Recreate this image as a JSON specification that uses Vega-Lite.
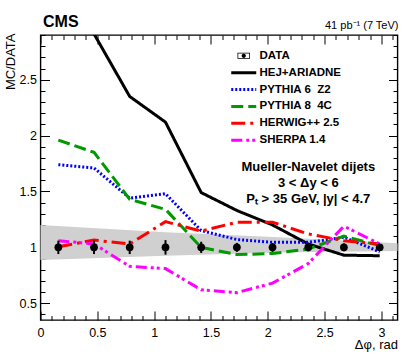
{
  "$schema": "https://vega.github.io/schema/vega-lite/v6.json",
  "width": 357,
  "height": 285,
  "autosize": {"type": "none"},
  "padding": {"left": 40.5, "top": 35, "right": 9.5, "bottom": 36},
  "background": "white",
  "config": {
    "view": {"stroke": "black", "strokeWidth": 1.4},
    "font": "Liberation Sans",
    "legend": {"rowPadding": 3.9},
    "axis": {"domain": false, "grid": false, "tickColor": "black", "tickWidth": 1, "labelFont": "Liberation Sans", "labelFontSize": 12.5, "labelColor": "black", "titleFont": "Liberation Sans", "titleFontSize": 13, "titleFontWeight": "normal", "titleColor": "black"}
  },
  "datasets": {
    "band": [
      {"dphi": 0, "lo": 0.886, "hi": 1.2},
      {"dphi": 1.1, "lo": 0.925, "hi": 1.135},
      {"dphi": 2.1, "lo": 0.955, "hi": 1.09},
      {"dphi": 3.14159, "lo": 0.967, "hi": 1.037}
    ],
    "points": [
      {"dphi": 0.157, "ratio": 1, "err": 0.06},
      {"dphi": 0.471, "ratio": 1, "err": 0.06},
      {"dphi": 0.785, "ratio": 1, "err": 0.06},
      {"dphi": 1.1, "ratio": 1, "err": 0.065},
      {"dphi": 1.414, "ratio": 1, "err": 0.05},
      {"dphi": 1.728, "ratio": 1, "err": 0.04},
      {"dphi": 2.042, "ratio": 1, "err": 0.04},
      {"dphi": 2.356, "ratio": 1, "err": 0.035},
      {"dphi": 2.67, "ratio": 1, "err": 0.035},
      {"dphi": 2.985, "ratio": 1, "err": 0.03}
    ],
    "models": [
      {"model": "HEJ+ARIADNE", "dphi": 0.157, "ratio": 3.7},
      {"model": "HEJ+ARIADNE", "dphi": 0.471, "ratio": 2.91},
      {"model": "HEJ+ARIADNE", "dphi": 0.785, "ratio": 2.35},
      {"model": "HEJ+ARIADNE", "dphi": 1.1, "ratio": 2.12},
      {"model": "HEJ+ARIADNE", "dphi": 1.414, "ratio": 1.49},
      {"model": "HEJ+ARIADNE", "dphi": 1.728, "ratio": 1.33},
      {"model": "HEJ+ARIADNE", "dphi": 2.042, "ratio": 1.2},
      {"model": "HEJ+ARIADNE", "dphi": 2.356, "ratio": 1.03},
      {"model": "HEJ+ARIADNE", "dphi": 2.67, "ratio": 0.93},
      {"model": "HEJ+ARIADNE", "dphi": 2.985, "ratio": 0.925},
      {"model": "PYTHIA 6 \u00a0Z2", "dphi": 0.157, "ratio": 1.74},
      {"model": "PYTHIA 6 \u00a0Z2", "dphi": 0.471, "ratio": 1.71},
      {"model": "PYTHIA 6 \u00a0Z2", "dphi": 0.785, "ratio": 1.44},
      {"model": "PYTHIA 6 \u00a0Z2", "dphi": 1.1, "ratio": 1.48},
      {"model": "PYTHIA 6 \u00a0Z2", "dphi": 1.414, "ratio": 1.15},
      {"model": "PYTHIA 6 \u00a0Z2", "dphi": 1.728, "ratio": 1.07},
      {"model": "PYTHIA 6 \u00a0Z2", "dphi": 2.042, "ratio": 1.045},
      {"model": "PYTHIA 6 \u00a0Z2", "dphi": 2.356, "ratio": 1.045},
      {"model": "PYTHIA 6 \u00a0Z2", "dphi": 2.67, "ratio": 1.09},
      {"model": "PYTHIA 6 \u00a0Z2", "dphi": 2.985, "ratio": 0.96},
      {"model": "PYTHIA 8 \u00a04C", "dphi": 0.157, "ratio": 1.96},
      {"model": "PYTHIA 8 \u00a04C", "dphi": 0.471, "ratio": 1.85},
      {"model": "PYTHIA 8 \u00a04C", "dphi": 0.785, "ratio": 1.43},
      {"model": "PYTHIA 8 \u00a04C", "dphi": 1.1, "ratio": 1.34},
      {"model": "PYTHIA 8 \u00a04C", "dphi": 1.414, "ratio": 1.0},
      {"model": "PYTHIA 8 \u00a04C", "dphi": 1.728, "ratio": 0.935},
      {"model": "PYTHIA 8 \u00a04C", "dphi": 2.042, "ratio": 0.945},
      {"model": "PYTHIA 8 \u00a04C", "dphi": 2.356, "ratio": 0.985},
      {"model": "PYTHIA 8 \u00a04C", "dphi": 2.67, "ratio": 1.1},
      {"model": "PYTHIA 8 \u00a04C", "dphi": 2.985, "ratio": 1.015},
      {"model": "HERWIG++ 2.5", "dphi": 0.157, "ratio": 1.005},
      {"model": "HERWIG++ 2.5", "dphi": 0.471, "ratio": 1.065},
      {"model": "HERWIG++ 2.5", "dphi": 0.785, "ratio": 1.03},
      {"model": "HERWIG++ 2.5", "dphi": 1.1, "ratio": 1.23},
      {"model": "HERWIG++ 2.5", "dphi": 1.414, "ratio": 1.145},
      {"model": "HERWIG++ 2.5", "dphi": 1.728, "ratio": 1.225},
      {"model": "HERWIG++ 2.5", "dphi": 2.042, "ratio": 1.225},
      {"model": "HERWIG++ 2.5", "dphi": 2.356, "ratio": 1.12},
      {"model": "HERWIG++ 2.5", "dphi": 2.67, "ratio": 1.06},
      {"model": "HERWIG++ 2.5", "dphi": 2.985, "ratio": 1.03},
      {"model": "SHERPA 1.4", "dphi": 0.157, "ratio": 1.06},
      {"model": "SHERPA 1.4", "dphi": 0.471, "ratio": 1.03},
      {"model": "SHERPA 1.4", "dphi": 0.785, "ratio": 0.83},
      {"model": "SHERPA 1.4", "dphi": 1.1, "ratio": 0.81},
      {"model": "SHERPA 1.4", "dphi": 1.414, "ratio": 0.62},
      {"model": "SHERPA 1.4", "dphi": 1.728, "ratio": 0.595},
      {"model": "SHERPA 1.4", "dphi": 2.042, "ratio": 0.68},
      {"model": "SHERPA 1.4", "dphi": 2.356, "ratio": 0.855},
      {"model": "SHERPA 1.4", "dphi": 2.67, "ratio": 1.19},
      {"model": "SHERPA 1.4", "dphi": 2.985, "ratio": 1.03}
    ]
  },
  "layer": [
    {
      "data": {"name": "band"},
      "mark": {"type": "area", "color": "#d0d0d0", "opacity": 1},
      "encoding": {
        "x": {"field": "dphi", "type": "quantitative", "scale": {"domain": [0, 3.14159], "nice": false, "zero": false},
          "axis": {"orient": "bottom", "values": [0,0.1,0.2,0.3,0.4,0.5,0.6,0.7,0.8,0.9,1,1.1,1.2,1.3,1.4,1.5,1.6,1.7,1.8,1.9,2,2.1,2.2,2.3,2.4,2.5,2.6,2.7,2.8,2.9,3,3.1],
            "tickSize": {"condition": {"test": "abs(datum.value*2-round(datum.value*2))<0.001", "value": -9}, "value": -4.5},
            "format": "~g", "labelExpr": "abs(datum.value*2-round(datum.value*2))<0.001 ? datum.label : ''",
            "labelPadding": 15, "labelOverlap": false, "labelFlush": false,
            "title": "Δφ, rad", "titleAnchor": "end", "titleAlign": "right", "titleX": 357, "titleY": 28.5, "titleBaseline": "alphabetic"}},
        "y": {"field": "hi", "type": "quantitative", "scale": {"domain": [0.35, 2.9], "nice": false, "zero": false},
          "axis": {"orient": "left", "values": [0.4,0.5,0.6,0.7,0.8,0.9,1,1.1,1.2,1.3,1.4,1.5,1.6,1.7,1.8,1.9,2,2.1,2.2,2.3,2.4,2.5,2.6,2.7,2.8,2.9],
            "tickSize": {"condition": {"test": "abs(datum.value*2-round(datum.value*2))<0.001", "value": -9}, "value": -4.5},
            "format": "~g", "labelExpr": "abs(datum.value*2-round(datum.value*2))<0.001 ? datum.label : ''",
            "labelPadding": 13, "labelOverlap": false, "labelFlush": false,
            "title": "MC/DATA", "titleAnchor": "end", "titleAlign": "right", "titleAngle": 270, "titleBaseline": "bottom", "titleX": -23.5, "titleY": -2}},
        "y2": {"field": "lo"}
      }
    },
    {
      "data": {"name": "models"},
      "mark": {"type": "line", "strokeWidth": 3, "clip": true},
      "encoding": {
        "x": {"field": "dphi", "type": "quantitative",
          "axis": {"orient": "top", "values": [0,0.1,0.2,0.3,0.4,0.5,0.6,0.7,0.8,0.9,1,1.1,1.2,1.3,1.4,1.5,1.6,1.7,1.8,1.9,2,2.1,2.2,2.3,2.4,2.5,2.6,2.7,2.8,2.9,3,3.1],
            "tickSize": {"condition": {"test": "abs(datum.value*2-round(datum.value*2))<0.001", "value": -9}, "value": -4.5},
            "labels": false, "title": "41 pb⁻¹ (7 TeV)", "titleFontSize": 11, "titleAnchor": "end", "titleAlign": "right", "titleX": 357.5, "titleY": -7, "titleBaseline": "alphabetic"}},
        "y": {"field": "ratio", "type": "quantitative",
          "axis": {"orient": "right", "values": [0.4,0.5,0.6,0.7,0.8,0.9,1,1.1,1.2,1.3,1.4,1.5,1.6,1.7,1.8,1.9,2,2.1,2.2,2.3,2.4,2.5,2.6,2.7,2.8,2.9],
            "tickSize": {"condition": {"test": "abs(datum.value*2-round(datum.value*2))<0.001", "value": -9}, "value": -4.5},
            "labels": false, "title": null}},
        "color": {"field": "model", "type": "nominal",
          "scale": {"domain": ["DATA", "HEJ+ARIADNE", "PYTHIA 6 \u00a0Z2", "PYTHIA 8 \u00a04C", "HERWIG++ 2.5", "SHERPA 1.4"], "range": ["black", "black", "#0000ff", "#009900", "#ff0000", "#ff00ff"]},
          "legend": {"title": null, "orient": "none", "legendX": 197.5, "legendY": 15, "padding": 0, "symbolType": "stroke", "symbolSize": 625, "symbolStrokeWidth": 3, "labelOffset": 10, "rowPadding": 3.9, "labelFont": "Liberation Sans", "labelFontSize": 11.5, "labelFontWeight": "bold", "labelColor": "black",
            "encode": {"symbols": {"update": {
              "shape": {"signal": "datum.value === 'DATA' ? 'M-0.5,-0.24H0.5V0.24H-0.5Z M-0.44,-0.18V0.18H0.44V-0.18Z M-0.17,0A0.17,0.17 0 1,0 0.17,0A0.17,0.17 0 1,0 -0.17,0Z' : 'stroke'"},
              "fill": {"signal": "datum.value === 'DATA' ? 'black' : 'transparent'"},
              "strokeWidth": {"signal": "datum.value === 'DATA' ? 0 : 3"}}}}}},
        "strokeDash": {"field": "model", "type": "nominal",
          "scale": {"domain": ["DATA", "HEJ+ARIADNE", "PYTHIA 6 \u00a0Z2", "PYTHIA 8 \u00a04C", "HERWIG++ 2.5", "SHERPA 1.4"], "range": [[1, 0], [1, 0], [2, 2], [12, 5], [14, 5, 3, 5], [11, 4, 3, 3, 3, 4]]},
          "legend": {"title": null, "orient": "none", "legendX": 197.5, "legendY": 15, "padding": 0, "symbolType": "stroke", "symbolSize": 625, "symbolStrokeWidth": 3, "labelOffset": 10, "rowPadding": 3.9, "labelFont": "Liberation Sans", "labelFontSize": 11.5, "labelFontWeight": "bold", "labelColor": "black"}}
      }
    },
    {
      "data": {"name": "points"},
      "mark": {"type": "errorbar", "ticks": false, "thickness": 2, "color": "black"},
      "encoding": {
        "x": {"field": "dphi", "type": "quantitative", "axis": null},
        "y": {"field": "ratio", "type": "quantitative", "axis": null},
        "yError": {"field": "err"}
      }
    },
    {
      "data": {"name": "points"},
      "mark": {"type": "circle", "size": 60, "color": "black", "opacity": 1},
      "encoding": {
        "x": {"field": "dphi", "type": "quantitative", "axis": null},
        "y": {"field": "ratio", "type": "quantitative", "axis": null}
      }
    },
    {
      "data": {"values": [{}]},
      "mark": {"type": "text", "text": ["Mueller-Navelet dijets", "3 < Δy < 6", "Pₜ > 35 GeV, |y| < 4.7"], "font": "Liberation Sans", "fontSize": 13, "fontWeight": "bold", "align": "center", "baseline": "top", "lineHeight": 16, "color": "black"},
      "encoding": {
        "x": {"datum": 2.357, "type": "quantitative", "axis": null},
        "y": {"datum": 1.77, "type": "quantitative", "axis": null}
      }
    },
    {
      "data": {"values": [{}]},
      "mark": {"type": "text", "text": "CMS", "font": "Liberation Sans", "fontSize": 16, "fontWeight": "bold", "align": "left", "baseline": "alphabetic", "color": "black", "clip": false},
      "encoding": {
        "x": {"datum": 0.022, "type": "quantitative", "axis": null},
        "y": {"datum": 2.97, "type": "quantitative", "axis": null}
      }
    }
  ],
  "resolve": {"axis": {"x": "independent", "y": "independent"}}
}
